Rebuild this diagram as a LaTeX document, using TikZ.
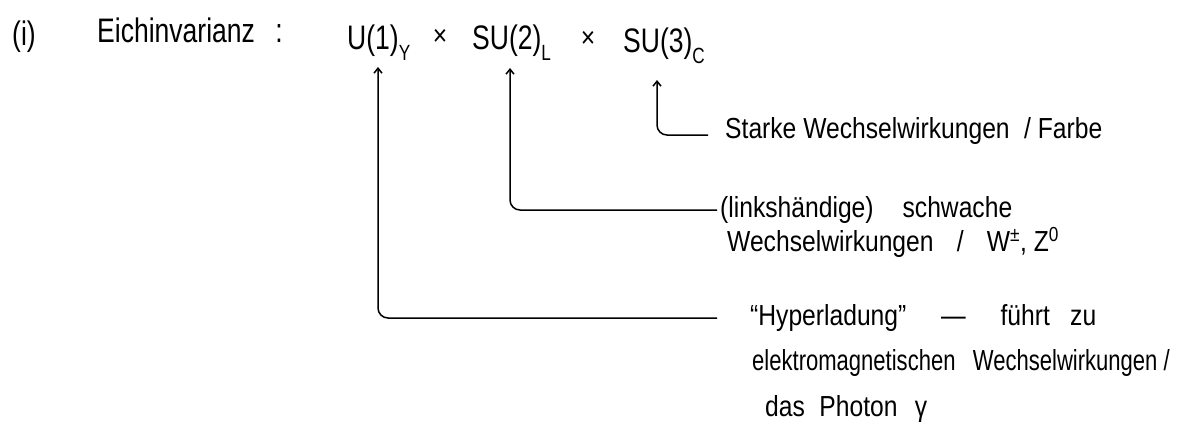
\documentclass[tikz,border=0pt]{standalone}
\usepackage{fontspec}
\usepackage{tikz}
\usetikzlibrary{arrows.meta}
\newfontfamily\handfont[FakeStretch=0.85]{Liberation Sans}
\newfontfamily\handnarrow[FakeStretch=0.76]{Liberation Sans}
\newfontfamily\titlefont[FakeStretch=0.78]{Liberation Sans}
\newcommand\lowsub[1]{\raisebox{-.3em}{\fontsize{22}{22}\selectfont #1}}

\begin{document}
\begin{tikzpicture}[x=1pt,y=-1pt,
  ttl/.style={font={\titlefont\fontsize{34}{40}\selectfont}, anchor=base west, inner sep=0pt},
  lbl/.style={font={\handfont\fontsize{29}{35}\selectfont}, anchor=base west, inner sep=0pt},
  conn/.style={-{Straight Barb[length=5pt,width=8pt]}, line width=1.5pt, rounded corners=10pt}]
  \useasboundingbox (0,0) rectangle (1184,436);
  % title line
  \node[ttl] (item) at (12,46) {(i)};
  \node[ttl] (eich) at (97,43) {Eichinvarianz\hspace{.6em}:};
  \node[ttl] (u1) at (347,50) {U(1)\lowsub{Y}};
  \node[lbl, anchor=center] (times1) at (440,37) {×};
  \node[ttl] (su2) at (472,50) {SU(2)\lowsub{L}};
  \node[lbl, anchor=center] (times2) at (588,39) {×};
  \node[ttl] (su3) at (623,53) {SU(3)\lowsub{C}};
  % explanations
  \node[lbl] (strong) at (725,138) {Starke Wechselwirkungen\hspace{.5em}/ Farbe};
  \node[lbl] (weak1) at (720,217) {(linkshändige)\hspace{1em}schwache};
  \node[lbl] (weak2) at (727,251) {Wechselwirkungen\hspace{.8em}/\hspace{.8em}W\textsuperscript{±}, Z\textsuperscript{0}};
  \node[lbl] (hyper1) at (750,325) {“Hyperladung”\hspace{1.2em}—\hspace{1.2em}führt\hspace{.7em}zu};
  \node[lbl, font={\handnarrow\fontsize{29}{35}\selectfont}] (hyper2) at (752,370) {elektromagnetischen\hspace{.6em}Wechselwirkungen /};
  \node[lbl] (hyper3) at (765,416) {das\hspace{.5em}Photon\hspace{.6em}γ};
  % arrow tips under the groups
  \coordinate (u1tip) at (378,67);
  \coordinate (su2tip) at (510,68);
  \coordinate (su3tip) at (657,80);
  \draw[conn] ([shift={(-17,-3)}]strong.base west) -| (su3tip);
  \draw[conn] ([shift={(-3,-7)}]weak1.base west) -| (su2tip);
  \draw[conn] ([shift={(-33,-7)}]hyper1.base west) -| (u1tip);
\end{tikzpicture}
\end{document}
